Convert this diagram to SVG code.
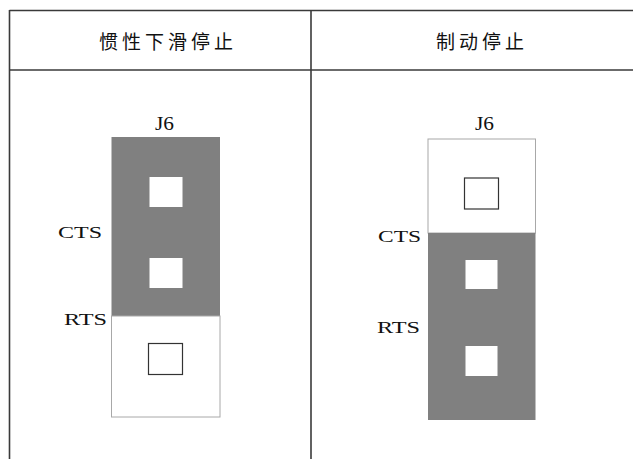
<svg xmlns="http://www.w3.org/2000/svg" width="633" height="459" viewBox="0 0 633 459">
<style>
.grid{stroke:#3a3a3a;stroke-width:1.6;fill:none}
.head{font-family:"Noto Sans CJK SC","Noto Sans",sans-serif;font-size:19px;fill:#111;letter-spacing:4px}
.lbl{font-family:"Liberation Serif","DejaVu Serif",serif;font-size:16px;fill:#111}
.j6{font-family:"Liberation Serif","DejaVu Serif",serif;font-size:18px;fill:#111}
.blk{stroke:#a8a8a8;stroke-width:1}
.dark{fill:#808080}
.light{fill:#ffffff}
.hole{fill:#ffffff}
.pin{fill:#ffffff;stroke:#333;stroke-width:1.2}
</style>
<rect width="633" height="459" fill="#ffffff"/>
<g id="table">
<line class="grid" x1="9.5" y1="10.5" x2="640" y2="10.5"/>
<line class="grid" x1="9.5" y1="70" x2="640" y2="70"/>
<line class="grid" x1="9.5" y1="10" x2="9.5" y2="459"/>
<line class="grid" x1="311" y1="10" x2="311" y2="459"/>
<text class="head" x="168" y="49" text-anchor="middle">惯性下滑停止</text>
<text class="head" x="482" y="49" text-anchor="middle">制动停止</text>
</g>
<g id="jumper-left">
<text class="j6" x="155" y="130" textLength="19" lengthAdjust="spacingAndGlyphs">J6</text>
<rect class="dark" x="111.5" y="137" width="108.5" height="179"/>
<rect class="light blk" x="111.5" y="316" width="108.5" height="101"/>
<rect class="hole" x="149.5" y="177" width="33" height="30"/>
<rect class="hole" x="149.5" y="258" width="33" height="30"/>
<rect class="pin" x="148.5" y="343.5" width="34" height="31"/>
<text class="lbl" x="58" y="238" textLength="44" lengthAdjust="spacingAndGlyphs">CTS</text>
<text class="lbl" x="64" y="325" textLength="43" lengthAdjust="spacingAndGlyphs">RTS</text>
</g>
<g id="jumper-right">
<text class="j6" x="475" y="130" textLength="19" lengthAdjust="spacingAndGlyphs">J6</text>
<rect class="light blk" x="428" y="139" width="107.5" height="94"/>
<rect class="dark" x="428" y="233" width="107.5" height="187"/>
<rect class="pin" x="464.5" y="178" width="34" height="31"/>
<rect class="hole" x="465.5" y="260" width="32" height="29"/>
<rect class="hole" x="465.5" y="346" width="32" height="30"/>
<text class="lbl" x="378" y="242" textLength="43" lengthAdjust="spacingAndGlyphs">CTS</text>
<text class="lbl" x="377" y="333" textLength="43" lengthAdjust="spacingAndGlyphs">RTS</text>
</g>
<g id="connectors"></g>
</svg>
